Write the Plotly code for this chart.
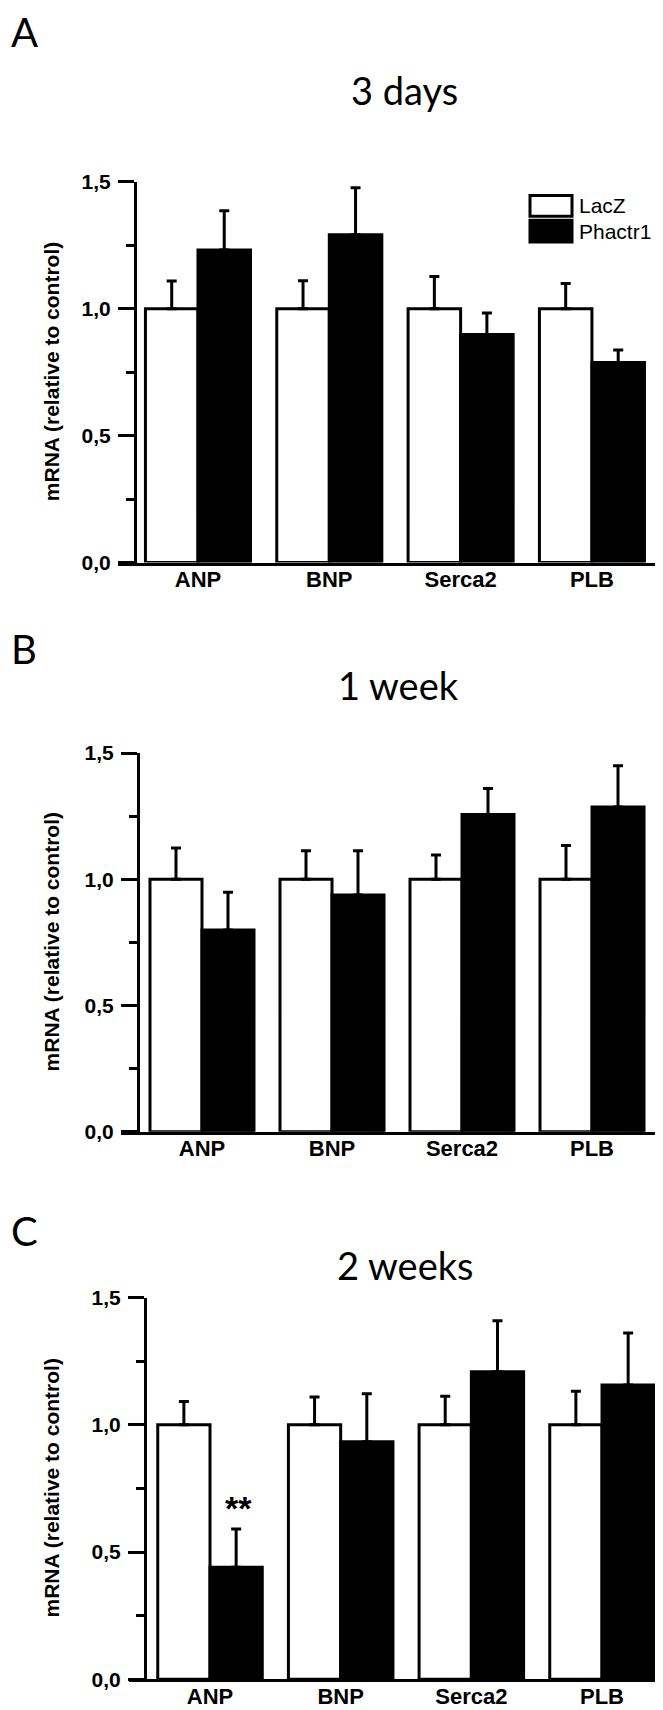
import plotly.graph_objects as go

W, H = 663, 1710

categories = ["ANP", "BNP", "Serca2", "PLB"]
series_names = ["LacZ", "Phactr1"]
y_tickvals = [0, 0.5, 1.0, 1.5]
y_ticktext = ["0,0", "0,5", "1,0", "1,5"]
y_minor = [0.25, 0.75, 1.25]
y_title = "mRNA (relative to control)"

panel_titles = ["3 days", "1 week", "2 weeks"]
panel_letters = ["A", "B", "C"]

# 3 days
lacz_3d = [1.0, 1.0, 1.0, 1.0]
lacz_3d_err = [0.109, 0.110, 0.127, 0.099]
phactr1_3d = [1.231, 1.291, 0.898, 0.788]
phactr1_3d_err = [0.155, 0.186, 0.085, 0.049]

# 1 week
lacz_1w = [1.0, 1.0, 1.0, 1.0]
lacz_1w_err = [0.124, 0.113, 0.096, 0.134]
phactr1_1w = [0.799, 0.938, 1.257, 1.286]
phactr1_1w_err = [0.150, 0.175, 0.102, 0.164]

# 2 weeks
lacz_2w = [1.0, 1.0, 1.0, 1.0]
lacz_2w_err = [0.092, 0.109, 0.112, 0.132]
phactr1_2w = [0.441, 0.934, 1.209, 1.157]
phactr1_2w_err = [0.150, 0.188, 0.200, 0.204]

signif_label = "**"
signif_value = 0.672

panels = [
    (lacz_3d, lacz_3d_err, phactr1_3d, phactr1_3d_err),
    (lacz_1w, lacz_1w_err, phactr1_1w, phactr1_1w_err),
    (lacz_2w, lacz_2w_err, phactr1_2w, phactr1_2w_err),
]

# layout geometry in pixels
geom = [
    dict(xd=(110, 650), yd=(550, 164), yax=127, xr=(-0.609, 3.503), ly=12, tx=396, ty=71),
    dict(xd=(113, 652), yd=(1127, 743), yax=130, xr=(-0.623, 3.523), ly=638, tx=390, ty=674),
    dict(xd=(121, 660), yd=(1682, 1295), yax=137, xr=(-0.620, 3.505), ly=1228, tx=397, ty=1262),
]

def px(x):
    return x / W

def py(y):
    return 1 - y / H

LW = 3
fig = go.Figure()
layout = dict(
    width=W, height=H,
    margin=dict(l=0, r=0, t=0, b=0),
    paper_bgcolor="white", plot_bgcolor="white",
    showlegend=False,
    barmode="group", bargap=0.2, bargroupgap=0,
    font=dict(family="Liberation Sans, Arial", color="black"),
)
annotations = []
shapes = []

ytick_font = dict(family="Liberation Sans, Arial", size=21, color="black", weight="bold")
xtick_font = dict(family="Liberation Sans, Arial", size=22, color="black", weight="bold")

for i, (lz, lze, ph, phe) in enumerate(panels):
    g = geom[i]
    xa = "x" if i == 0 else f"x{i+1}"
    ya = "y" if i == 0 else f"y{i+1}"
    xkey = "xaxis" if i == 0 else f"xaxis{i+1}"
    ykey = "yaxis" if i == 0 else f"yaxis{i+1}"
    fig.add_trace(go.Bar(
        x=categories, y=lz, name=series_names[0], xaxis=xa, yaxis=ya,
        marker=dict(color="white", line=dict(color="black", width=LW)),
        error_y=dict(type="data", symmetric=False, array=lze, arrayminus=[0] * len(lze),
                     color="black", thickness=LW, width=5),
        offsetgroup="a",
    ))
    fig.add_trace(go.Bar(
        x=categories, y=ph, name=series_names[1], xaxis=xa, yaxis=ya,
        marker=dict(color="black", line=dict(color="black", width=LW)),
        error_y=dict(type="data", symmetric=False, array=phe, arrayminus=[0] * len(phe),
                     color="black", thickness=LW, width=5),
        offsetgroup="b",
    ))
    layout[xkey] = dict(
        domain=[px(g["xd"][0]), px(g["xd"][1])],
        anchor=ya, range=list(g["xr"]),
        showline=True, linecolor="black", linewidth=LW,
        ticks="", showgrid=False, zeroline=False,
        tickfont=xtick_font, ticklabelstandoff=-5,
        categoryorder="array", categoryarray=categories,
        fixedrange=True,
    )
    layout[ykey] = dict(
        domain=[py(g["yd"][0]), py(g["yd"][1])],
        anchor="free", position=px(g["yax"]),
        range=[0, 1.5],
        showline=True, linecolor="black", linewidth=LW,
        ticks="outside", ticklen=16, tickwidth=LW, tickcolor="black",
        tickvals=y_tickvals, ticktext=y_ticktext, tickfont=ytick_font,
        ticklabelstandoff=3,
        minor=dict(tickvals=y_minor, ticks="outside", ticklen=8, tickwidth=LW, tickcolor="black"),
        showgrid=False, zeroline=False,
        fixedrange=True,
    )
    ymid = (g["yd"][0] + g["yd"][1]) / 2
    annotations.append(dict(
        x=px(43), y=py(ymid), xref="paper", yref="paper", textangle=-90,
        text=y_title, showarrow=False, xanchor="center", yanchor="middle",
        font=dict(family="Liberation Sans, Arial", size=21, color="black", weight="bold"),
    ))
    annotations.append(dict(
        x=px(1), y=py(g["ly"]), xref="paper", yref="paper",
        text=panel_letters[i], showarrow=False, xanchor="left", yanchor="middle",
        font=dict(family="Lato, Open Sans", size=40, color="black"),
    ))
    annotations.append(dict(
        x=px(g["tx"]), y=py(g["ty"]), xref="paper", yref="paper",
        text=panel_titles[i], showarrow=False, xanchor="center", yanchor="middle",
        font=dict(family="Lato, Open Sans", size=38, color="black"),
    ))

# significance marker on 2 weeks ANP Phactr1
annotations.append(dict(
    x=categories[0], y=signif_value, xref="x3", yref="y3", xshift=28,
    text=signif_label, showarrow=False, xanchor="center", yanchor="middle",
    font=dict(family="Liberation Sans, Arial", size=34, color="black", weight="bold"),
))

# legend (panel A)
shapes.append(dict(type="rect", xref="paper", yref="paper",
                   x0=px(522), x1=px(564), y0=py(199), y1=py(178),
                   line=dict(color="black", width=LW), fillcolor="white"))
shapes.append(dict(type="rect", xref="paper", yref="paper",
                   x0=px(522), x1=px(564), y0=py(225), y1=py(203),
                   line=dict(color="black", width=LW), fillcolor="black"))
annotations.append(dict(x=px(569), y=py(188), xref="paper", yref="paper",
                        text=series_names[0], showarrow=False, xanchor="left", yanchor="middle",
                        font=dict(family="Liberation Sans, Arial", size=21, color="black")))
annotations.append(dict(x=px(569), y=py(214), xref="paper", yref="paper",
                        text=series_names[1], showarrow=False, xanchor="left", yanchor="middle",
                        font=dict(family="Liberation Sans, Arial", size=21, color="black")))

layout["annotations"] = annotations
layout["shapes"] = shapes
fig.update_layout(**layout)

fig.write_html("out.html")
